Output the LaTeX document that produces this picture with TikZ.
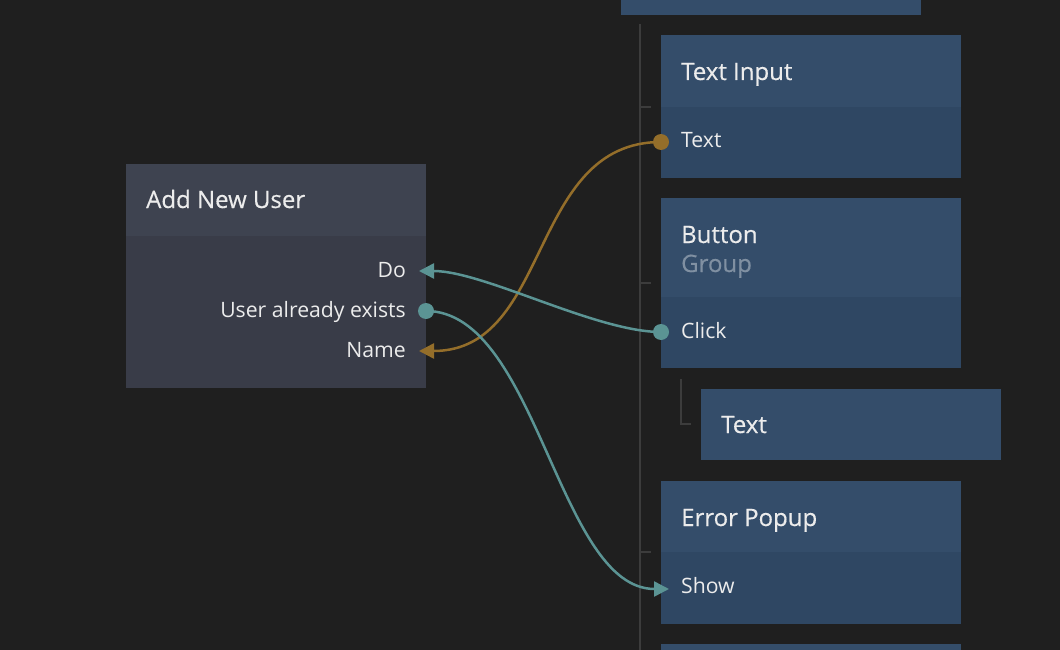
\documentclass[tikz,border=0pt]{standalone}
\usepackage{fontspec}
\setmainfont{Open Sans}
\newfontfamily\titlefont{Open Sans}[FakeBold=0.4]
\usetikzlibrary{arrows.meta}
\definecolor{canvas}{RGB}{31,31,31}
\definecolor{treeline}{RGB}{60,60,60}
\definecolor{vishead}{RGB}{52,77,106}
\definecolor{visbody}{RGB}{47,71,99}
\definecolor{comphead}{RGB}{62,67,80}
\definecolor{compbody}{RGB}{57,60,72}
\definecolor{sigteal}{RGB}{91,148,148}
\definecolor{datagold}{RGB}{148,110,42}
\definecolor{labelwhite}{RGB}{236,236,236}
\definecolor{subgray}{RGB}{128,144,162}

\begin{document}
\begin{tikzpicture}[x=1pt,y=-1pt,
	box/.style={anchor=north west, minimum width=300pt, inner sep=0pt, outer sep=0pt},
	title/.style={anchor=base west, text=labelwhite, inner sep=0pt, font=\titlefont\fontsize{24}{28}\selectfont},
	port/.style={anchor=base west, text=labelwhite, inner sep=0pt, font=\fontsize{21.2}{25}\selectfont},
	dot/.style={circle, minimum size=16pt, inner sep=0pt},
	wire/.style={line width=2.5pt},
	tip/.style={-{Triangle[length=15pt,width=15pt]}},
	tree/.style={treeline, line width=2pt}]
	\fill[canvas] (0,0) rectangle (1060,650);
	\useasboundingbox (0,0) rectangle (1060,650);
	% hierarchy lines
	\draw[tree] (640,24) -- (640,650);
	\foreach \y in {107,283,552} {\draw[tree] (640,\y) -- (651,\y);}
	\draw[tree] (681,379) -- (681,424) -- (691,424);
	% visual nodes
	\node[box, fill=vishead, minimum height=15pt] (top) at (621,0) {};
	\node[box, fill=vishead, minimum height=72pt] (ti-head) at (661,35) {};
	\node[box, fill=visbody, minimum height=71pt] (ti-body) at (661,107) {};
	\node[box, fill=vishead, minimum height=99pt] (btn-head) at (661,198) {};
	\node[box, fill=visbody, minimum height=71pt] (btn-body) at (661,297) {};
	\node[box, fill=vishead, minimum height=71pt] (txt-head) at (701,389) {};
	\node[box, fill=vishead, minimum height=71pt] (err-head) at (661,481) {};
	\node[box, fill=visbody, minimum height=72pt] (err-body) at (661,552) {};
	\node[box, fill=vishead, minimum height=6pt] (bottom) at (661,644) {};
	% logic node
	\node[box, fill=comphead, minimum height=72pt] (anu-head) at (126,164) {};
	\node[box, fill=compbody, minimum height=152pt] (anu-body) at (126,236) {};
	% labels
	\node[title] (ti-title) at (681,80) {Text Input};
	\node[port] (ti-text) at (681,148) {Text};
	\node[title] (btn-title) at (681,243) {Button};
	\node[title, text=subgray] (btn-sub) at (681,272) {Group};
	\node[port] (btn-click) at (681,338) {Click};
	\node[title] (txt-title) at (721,433) {Text};
	\node[title] (err-title) at (681,526) {Error Popup};
	\node[port] (err-show) at (681,593) {Show};
	\node[title] (anu-title) at (146,208) {Add New User};
	\node[port, anchor=base east] (anu-do) at (406,277) {Do};
	\node[port, anchor=base east] (anu-exists) at (406,317) {User already exists};
	\node[port, anchor=base east] (anu-name) at (406,357) {Name};
	% ports
	\node[dot, fill=datagold] (p-text) at (661,142) {};
	\node[dot, fill=sigteal] (p-click) at (661,332) {};
	\node[dot, fill=sigteal] (p-exists) at (426,311) {};
	\coordinate (in-do) at (419,271);
	\coordinate (in-name) at (419,351);
	\coordinate (in-show) at (669,589);
	% connections
	\draw[wire, datagold, tip] (p-text.center) .. controls +(-133,0) and +(133,0) .. (in-name);
	\draw[wire, sigteal, tip] (p-click.center) .. controls +(-65,0) and +(65,0) .. (in-do);
	\draw[wire, sigteal, tip] (p-exists.center) .. controls +(111,0) and +(-111,0) .. (in-show);
\end{tikzpicture}
\end{document}
